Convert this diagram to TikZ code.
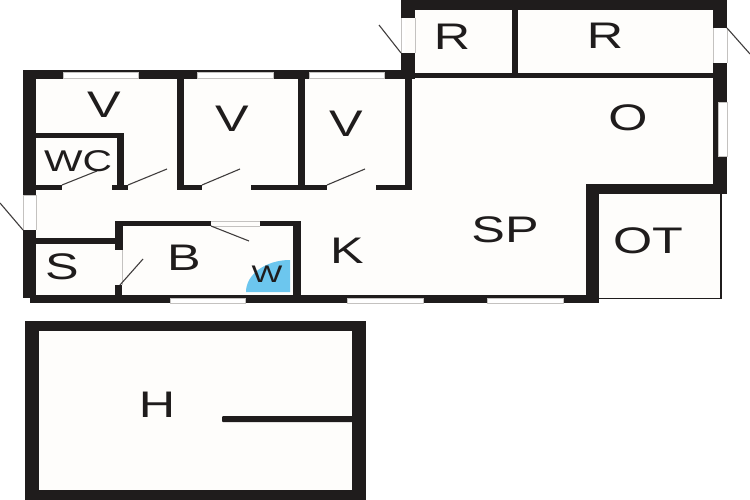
\documentclass[tikz,border=0pt]{standalone}
\usepackage{fontspec}
\newfontfamily\planfont[FakeStretch=1.36]{Liberation Sans}
\definecolor{wallc}{HTML}{1F1C1C}
\definecolor{wetc}{HTML}{6CC6EE}
\definecolor{edgec}{HTML}{C4C2C0}
\definecolor{floorc}{HTML}{FEFDFB}
\tikzset{
  wall/.style={fill=wallc,draw=none},
  win/.style={fill=white,draw=edgec,line width=.7pt},
  swing/.style={draw=wallc!85,line width=1.1pt},
  thin wall/.style={draw=wallc,line width=1.8pt},
  roomlabel/.style={inner sep=0,text=wallc,font=\fontsize{37}{37}\selectfont\planfont},
  smalllabel/.style={inner sep=0,text=wallc,font=\fontsize{30}{30}\selectfont\planfont},
  tinylabel/.style={inner sep=0,text=wallc,font=\fontsize{24}{24}\selectfont\planfont}
}
\newcommand{\wl}[4]{\fill[wall] (#1,#2) rectangle (#3,#4);}
\newcommand{\wn}[4]{\filldraw[win] (#1,#2) rectangle (#3,#4);}
\begin{document}
\begin{tikzpicture}[x=1pt,y=-1pt]
\useasboundingbox (0,0) rectangle (750,500);
\fill[white] (0,0) rectangle (750,500);
% floors
\fill[floorc] (36,79) -- (405,79) -- (405,10) -- (713,10) -- (713,184) -- (599,184) -- (599,298) -- (36,298) -- cycle;
\fill[floorc] (599,194) rectangle (720,298);
\fill[floorc] (39,331) rectangle (352,490);
% wet area
\fill[wetc] (290,292) -- (246,292) arc[start angle=180,end angle=270,x radius=44,y radius=32] -- cycle;
% main block outer walls
\wl{23}{70}{415}{79}
\wl{23}{70}{36}{195}
\wl{23}{230}{36}{298}
\wl{30}{295}{598}{303}
% upper block
\wl{401}{0}{727}{10}
\wl{401}{0}{415}{18}
\wl{401}{53}{415}{79}
\wl{385}{73}{715}{78}
\wl{512}{10}{518}{73}
\wl{713}{0}{727}{28}
\wl{713}{63}{727}{193}
\wl{586}{184}{727}{194}
\wl{586}{184}{599}{303}
% bedroom partitions
\wl{177}{79}{184}{190}
\wl{298}{79}{305}{190}
\wl{405}{79}{412}{190}
\wl{36}{185}{62}{190}
\wl{112}{185}{128}{190}
\wl{177}{185}{202}{190}
\wl{251}{185}{327}{190}
\wl{376}{185}{412}{190}
% WC
\wl{36}{133}{124}{138}
\wl{117}{133}{124}{190}
% bath and store
\wl{115}{221}{211}{226}
\wl{260}{221}{301}{226}
\wl{293}{221}{301}{295}
\wl{115}{221}{123}{250}
\wl{115}{285}{122}{295}
\wl{36}{238}{115}{244}
\draw[edgec,line width=.7pt] (122,250) -- (122,285);
\draw[edgec,line width=.7pt] (211,221.5) -- (260,221.5) (211,226) -- (260,226);
% outbuilding room thin walls
\draw[thin wall] (599,298.5) -- (721,298.5) -- (721,194);
% windows
\wn{63}{72}{138}{78}
\wn{197}{72}{273}{78}
\wn{309}{72}{384}{78}
\wn{170}{298}{245}{303}
\wn{347}{298}{423}{303}
\wn{487}{298}{563}{303}
\wn{718}{102}{727}{156}
% door openings
\draw[edgec,line width=.7pt] (23,195) -- (36,195) (23,195) -- (23,230) (36,195) -- (36,230);
\draw[edgec,line width=.5pt] (401,18) -- (401,53) (415,18) -- (415,53);
\draw[edgec,line width=.5pt] (713,28) -- (713,63) (727,28) -- (727,63);
% door leaves
\draw[swing] (62,185) -- (97,171);
\draw[swing] (128,185) -- (167,169);
\draw[swing] (202,185) -- (240,169);
\draw[swing] (327,185) -- (365,169);
\draw[swing] (0,203) -- (23,230);
\draw[swing] (211,226) -- (249,241);
\draw[swing] (120,285) -- (143,259);
\draw[swing] (379,25) -- (401,53);
\draw[swing] (727,28) -- (750,54);
% separate building
\wl{25}{321}{366}{331}
\wl{25}{490}{366}{500}
\wl{25}{321}{39}{500}
\wl{352}{321}{366}{500}
\fill[wall,rounded corners=1pt] (222,416) rectangle (353,422);
% labels
\node[roomlabel] (v1) at (104,105) {V};
\node[roomlabel] (v2) at (232,119) {V};
\node[roomlabel] (v3) at (346,124) {V};
\node[smalllabel] (wc) at (78,161) {WC};
\node[roomlabel] (s) at (62,267) {S};
\node[roomlabel] (b) at (184,258) {B};
\node[tinylabel] (w) at (267,274) {W};
\node[roomlabel] (r1) at (452,37) {R};
\node[roomlabel] (r2) at (605,36) {R};
\node[roomlabel] (o) at (628,118) {O};
\node[roomlabel] (sp) at (505,230) {SP};
\node[roomlabel] (ot) at (648,241) {OT};
\node[roomlabel] (k) at (347,251) {K};
\node[roomlabel] (h) at (157,405) {H};
\end{tikzpicture}
\end{document}
